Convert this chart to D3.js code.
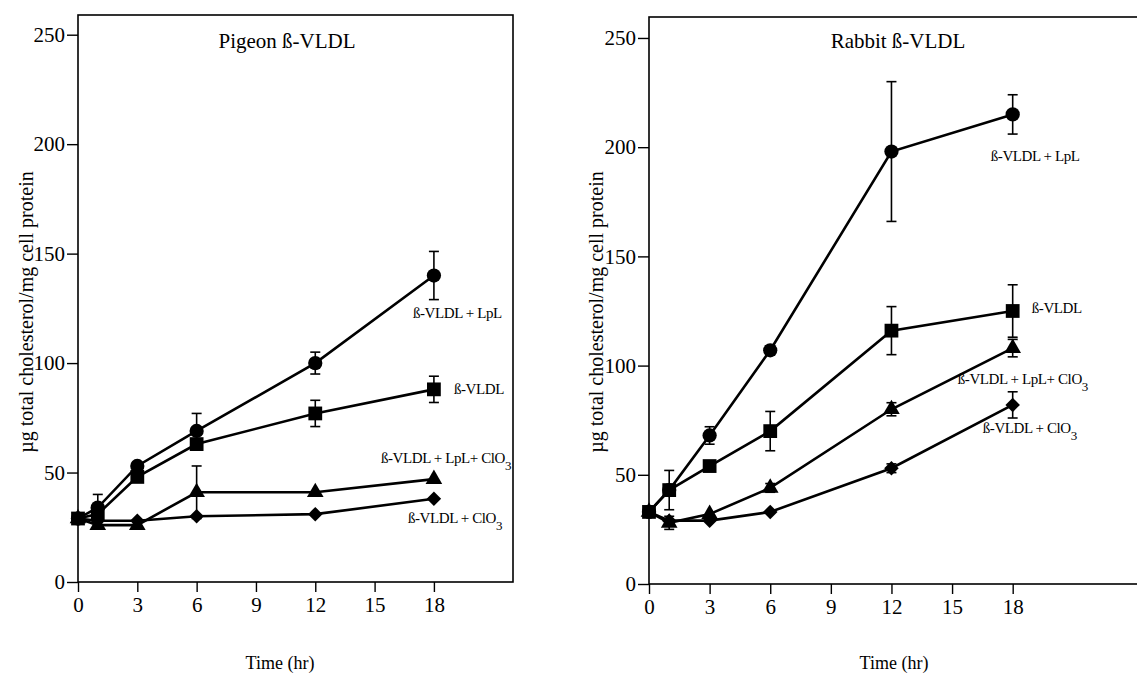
<!DOCTYPE html>
<html>
<head>
<meta charset="utf-8">
<script src="https://cdn.jsdelivr.net/npm/d3@7"></script>
<style>
  body { margin: 0; background: #fff; }
  svg text { font-family: "Liberation Serif", "Times New Roman", serif; }
</style>
</head>
<body>
<div id="chart"></div>
<script>
// time points (hr)
const times = [0, 1, 3, 6, 12, 18];
const xTicks = [0, 3, 6, 9, 12, 15, 18];
const yTicks = [0, 50, 100, 150, 200, 250];

// Pigeon β-VLDL
const pigeonLpl = [29, 34, 53, 69, 100, 140];
const pigeonLplErr = [0, 6, 0, 8, 5, 11];
const pigeonVldl = [29, 31, 48, 63, 77, 88];
const pigeonVldlErr = [0, 0, 0, 0, 6, 6];
const pigeonLplClo = [29, 26, 26, 41, 41, 47];
const pigeonLplCloErr = [0, 0, 0, 12, 0, 0];
const pigeonClo = [29, 28, 28, 30, 31, 38];
const pigeonCloErr = [0, 0, 0, 0, 0, 0];

// Rabbit β-VLDL
const rabbitLpl = [33, 43, 68, 107, 198, 215];
const rabbitLplErr = [0, 0, 4, 2, 32, 9];
const rabbitVldl = [33, 43, 54, 70, 116, 125];
const rabbitVldlErr = [0, 9, 0, 9, 11, 12];
const rabbitLplClo = [33, 28, 32, 44, 80, 108];
const rabbitLplCloErr = [0, 3, 0, 2, 3, 4];
const rabbitClo = [33, 29, 29, 33, 53, 82];
const rabbitCloErr = [0, 0, 0, 0, 2, 6];

const width = 1137;
const height = 675;

const svg = d3.select("#chart")
    .append("svg")
    .attr("viewBox", [0, 0, width, height])
    .attr("width", width)
    .attr("height", height);

// diamond marker
const diamond = {
    draw(ctx, size) {
        const r = Math.sqrt(size / 2);
        ctx.moveTo(0, -r);
        ctx.lineTo(r, 0);
        ctx.lineTo(0, r);
        ctx.lineTo(-r, 0);
        ctx.closePath();
    }
};

const shapes = {
    circle: d3.symbol(d3.symbolCircle, 160)(),
    square: d3.symbol(d3.symbolSquare, 190)(),
    triangle: d3.symbol(d3.symbolTriangle, 120)(),
    diamond: d3.symbol(diamond, 105)()
};

function drawPanel(p) {
    const x = d3.scaleLinear().domain(p.xDomain).range(p.xRange);
    const y = d3.scaleLinear().domain(p.yDomain).range(p.yRange);
    const g = svg.append("g");

    // frame
    g.append("rect")
        .attr("x", x(0))
        .attr("y", p.yRange[1])
        .attr("width", p.xRange[1] - p.xRange[0])
        .attr("height", p.yRange[0] - p.yRange[1])
        .attr("fill", "none")
        .attr("stroke", "#000")
        .attr("stroke-width", 1.6);

    // x-axis
    g.append("g")
        .attr("transform", `translate(0, ${y(0)})`)
        .call(d3.axisBottom(x).tickValues(xTicks).tickSize(10).tickSizeOuter(0).tickPadding(5))
        .attr("font-size", 21)
        .attr("font-family", null)
        .call(a => a.select(".domain").remove())
        .call(a => a.selectAll("line").attr("stroke-width", 1.4));

    // y-axis
    g.append("g")
        .attr("transform", `translate(${x(0)}, 0)`)
        .call(d3.axisLeft(y).tickValues(yTicks).tickSize(11).tickSizeOuter(0).tickPadding(2))
        .attr("font-size", 21)
        .attr("font-family", null)
        .call(a => a.select(".domain").remove())
        .call(a => a.selectAll("line").attr("stroke-width", 1.4));

    // title
    g.append("text")
        .attr("x", p.titleX)
        .attr("y", 48)
        .attr("text-anchor", "middle")
        .attr("font-size", 21)
        .text(p.title);

    // axis titles
    g.append("text")
        .attr("transform", `translate(${p.yLabelX}, 312) rotate(-90)`)
        .attr("text-anchor", "middle")
        .attr("font-size", 20)
        .text("µg total cholesterol/mg cell protein");

    g.append("text")
        .attr("x", p.xLabelX)
        .attr("y", 669)
        .attr("text-anchor", "middle")
        .attr("font-size", 18)
        .text("Time (hr)");

    const line = d3.line()
        .x((d, i) => x(times[i]))
        .y(d => y(d));

    p.series.forEach(s => {
        g.append("path")
            .attr("d", line(s.values))
            .attr("fill", "none")
            .attr("stroke", "#000")
            .attr("stroke-width", 2.6);
    });

    p.series.forEach(s => {
        const pts = s.values.map((v, i) => ({ t: times[i], v: v, e: s.err[i] }))
            .filter(d => d.e > 0);
        const eb = g.append("g")
            .attr("stroke", "#000")
            .attr("stroke-width", 1.6);
        eb.selectAll(".bar")
            .data(pts)
            .join("line")
            .attr("x1", d => x(d.t)).attr("x2", d => x(d.t))
            .attr("y1", d => y(d.v - d.e)).attr("y2", d => y(d.v + d.e));
        eb.selectAll(".top")
            .data(pts)
            .join("line")
            .attr("x1", d => x(d.t) - 5).attr("x2", d => x(d.t) + 5)
            .attr("y1", d => y(d.v + d.e)).attr("y2", d => y(d.v + d.e));
        eb.selectAll(".bottom")
            .data(pts)
            .join("line")
            .attr("x1", d => x(d.t) - 5).attr("x2", d => x(d.t) + 5)
            .attr("y1", d => y(d.v - d.e)).attr("y2", d => y(d.v - d.e));
    });

    p.series.forEach(s => {
        g.append("g")
            .selectAll("path")
            .data(s.values)
            .join("path")
            .attr("transform", (d, i) => `translate(${x(times[i])}, ${y(d)})`)
            .attr("d", shapes[s.shape])
            .attr("fill", "#000");
    });

    // series labels next to the last point
    p.series.forEach(s => {
        const last = s.values.length - 1;
        const t = g.append("text")
            .attr("x", x(times[last]) + s.dx)
            .attr("y", y(s.values[last]) + s.dy)
            .attr("font-size", 15)
            .attr("letter-spacing", -0.4);
        t.append("tspan").text(s.label);
        if (s.sub) {
            t.append("tspan")
                .attr("dy", 7)
                .attr("font-size", 13)
                .text(s.sub);
        }
    });
}

drawPanel({
    title: "Pigeon ß-VLDL",
    titleX: 287,
    yLabelX: 33,
    xLabelX: 280,
    xDomain: [0, 22],
    xRange: [78, 513],
    yDomain: [0, 259],
    yRange: [582, 15],
    series: [
        { values: pigeonLpl, err: pigeonLplErr, shape: "circle", label: "ß-VLDL + LpL", dx: -21, dy: 42 },
        { values: pigeonVldl, err: pigeonVldlErr, shape: "square", label: "ß-VLDL", dx: 20, dy: 5 },
        { values: pigeonLplClo, err: pigeonLplCloErr, shape: "triangle", label: "ß-VLDL + LpL+ ClO", sub: "3", dx: -53, dy: -16 },
        { values: pigeonClo, err: pigeonCloErr, shape: "diamond", label: "ß-VLDL + ClO", sub: "3", dx: -26, dy: 24 }
    ]
});

drawPanel({
    title: "Rabbit ß-VLDL",
    titleX: 898,
    yLabelX: 603,
    xLabelX: 894,
    xDomain: [0, 24.4],
    xRange: [649, 1142],
    yDomain: [0, 259.6],
    yRange: [584, 17],
    series: [
        { values: rabbitLpl, err: rabbitLplErr, shape: "circle", label: "ß-VLDL + LpL", dx: -22, dy: 47 },
        { values: rabbitVldl, err: rabbitVldlErr, shape: "square", label: "ß-VLDL", dx: 19, dy: 2 },
        { values: rabbitLplClo, err: rabbitLplCloErr, shape: "triangle", label: "ß-VLDL + LpL+ ClO", sub: "3", dx: -55, dy: 36 },
        { values: rabbitClo, err: rabbitCloErr, shape: "diamond", label: "ß-VLDL + ClO", sub: "3", dx: -30, dy: 28 }
    ]
});
</script>
</body>
</html>
